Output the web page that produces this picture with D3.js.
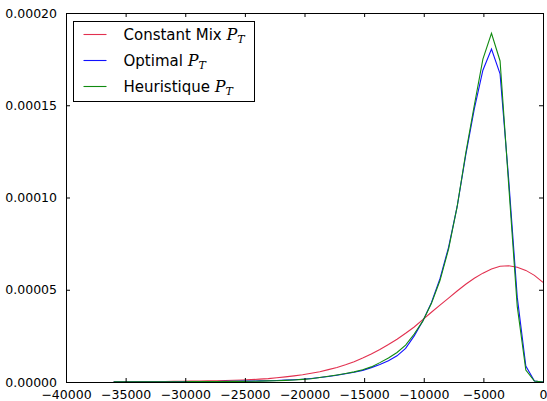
<!doctype html>
<head>
  <meta charset="utf-8">
  <title>Constant Mix / Optimal / Heuristique</title>
  <script src="https://d3js.org/d3.v7.min.js"></script>
</head>
<style>
  body { margin: 0; background: #fff; }
  .line { fill: none; stroke-width: 1.1px; }
  .tick text { font-family: "DejaVu Sans", sans-serif; font-size: 12.5px; fill: #000; }
</style>
<body>
<div id="chart"></div>
<script>
// x grid (bin positions)
var xVals = [-36000, -35280, -34560, -33840, -33120, -32400, -31680, -30960, -30240, -29520,
             -28800, -28080, -27360, -26640, -25920, -25200, -24480, -23760, -23040, -22320,
             -21600, -20880, -20160, -19440, -18720, -18000, -17280, -16560, -15840, -15120,
             -14400, -13680, -12960, -12240, -11520, -10800, -10080, -9360, -8640, -7920,
             -7200, -6480, -5760, -5040, -4320, -3600, -2880, -2160, -1440, -720, 0];

// densities, in units of 1e-5
var unit = 1e-5;
var constantMix = [0.01, 0.01, 0.015, 0.02, 0.02, 0.025, 0.03, 0.035, 0.04, 0.045,
                   0.05, 0.06, 0.07, 0.08, 0.095, 0.11, 0.13, 0.155, 0.185, 0.23,
                   0.28, 0.33, 0.39, 0.47, 0.56, 0.67, 0.79, 0.93, 1.1, 1.3,
                   1.52, 1.76, 2.03, 2.32, 2.64, 2.98, 3.38, 3.78, 4.17, 4.55,
                   4.93, 5.3, 5.62, 5.9, 6.12, 6.27, 6.3, 6.22, 6.05, 5.78, 5.4];
var optimal = [0.01, 0.01, 0.01, 0.01, 0.01, 0.01, 0.015, 0.015, 0.02, 0.02,
               0.025, 0.03, 0.03, 0.035, 0.04, 0.045, 0.05, 0.06, 0.07, 0.08,
               0.1, 0.12, 0.15, 0.19, 0.24, 0.3, 0.37, 0.45, 0.53, 0.63,
               0.78, 0.95, 1.15, 1.42, 1.82, 2.5, 3.3, 4.3, 5.6, 7.3,
               9.5, 12.3, 14.8, 16.9, 18.05, 16.7, 11.0, 4.6, 0.87, 0.05, 0];
var heuristique = [0.01, 0.01, 0.01, 0.01, 0.01, 0.01, 0.01, 0.015, 0.015, 0.02,
                   0.02, 0.025, 0.03, 0.03, 0.035, 0.035, 0.04, 0.05, 0.06, 0.07,
                   0.09, 0.11, 0.14, 0.18, 0.24, 0.31, 0.38, 0.46, 0.55, 0.66,
                   0.82, 1.05, 1.3, 1.6, 2.0, 2.6, 3.3, 4.25, 5.5, 7.2,
                   9.5, 12.4, 15.0, 17.5, 18.9, 17.4, 10.7, 4.1, 0.65, 0.05, 0];

var seriesNames = ["Constant Mix", "Optimal", "Heuristique"];
var seriesColors = ["#e2304f", "#1010ff", "#108a10"];
var xTicks = [-40000, -35000, -30000, -25000, -20000, -15000, -10000, -5000, 0];
var yTicks = [0, 0.00005, 0.0001, 0.00015, 0.0002];

var margin = {top: 13, right: 4, bottom: 19, left: 66},
    width = 547 - margin.left - margin.right,
    height = 401 - margin.top - margin.bottom;

var svg = d3.select("#chart").append("svg")
    .attr("width", 547)
    .attr("height", 401)
  .append("g")
    .attr("transform", "translate(" + margin.left + "," + margin.top + ")");

var x = d3.scaleLinear().domain([-40000, 0]).range([0, width]);
var y = d3.scaleLinear().domain([0, 0.0002]).range([height, 0]);

var allSeries = [constantMix, optimal, heuristique];

var line = d3.line()
    .x(function(d, i) { return x(xVals[i]); })
    .y(function(d) { return y(d * unit); });

allSeries.forEach(function(s, k) {
  svg.append("path")
      .datum(s)
      .attr("class", "line")
      .style("stroke", seriesColors[k])
      .attr("d", line);
});

// axes, ticks pointing inward like matplotlib classic
svg.append("g")
    .attr("transform", "translate(0," + height + ")")
    .call(d3.axisBottom(x).tickValues(xTicks).tickSizeInner(-4).tickSizeOuter(0).tickPadding(8)
      .tickFormat(d3.format("d")))
    .call(function(g) { g.select(".domain").remove(); });

svg.append("g")
    .call(d3.axisTop(x).tickValues(xTicks).tickSizeInner(-4).tickSizeOuter(0).tickFormat(""))
    .call(function(g) { g.select(".domain").remove(); });

svg.append("g")
    .call(d3.axisLeft(y).tickValues(yTicks).tickSizeInner(-4).tickSizeOuter(0).tickPadding(9)
      .tickFormat(d3.format(".5f")))
    .call(function(g) { g.select(".domain").remove(); });

svg.append("g")
    .attr("transform", "translate(" + width + ",0)")
    .call(d3.axisRight(y).tickValues(yTicks).tickSizeInner(-4).tickSizeOuter(0).tickFormat(""))
    .call(function(g) { g.select(".domain").remove(); });

svg.selectAll(".tick line").attr("stroke", "#000");

// frame
svg.append("rect")
    .attr("x", 0.5).attr("y", 0.5)
    .attr("width", width).attr("height", height)
    .attr("fill", "none")
    .attr("stroke", "#000")
    .attr("stroke-width", 1);

// legend
var legend = svg.append("g").attr("transform", "translate(7.5,8.5)");
legend.append("rect")
    .attr("width", 181).attr("height", 80)
    .attr("fill", "#fff")
    .attr("stroke", "#000");

seriesNames.forEach(function(name, k) {
  var cy = 13 + k * 26;
  legend.append("line")
      .attr("x1", 10).attr("x2", 33)
      .attr("y1", cy).attr("y2", cy)
      .attr("stroke", seriesColors[k])
      .attr("stroke-width", 1.1);
  var t = legend.append("text")
      .attr("x", 50).attr("y", cy + 5)
      .style("font-family", "'DejaVu Sans', sans-serif")
      .style("font-size", "15px");
  t.append("tspan").text(name + " ");
  t.append("tspan")
      .style("font-family", "'DejaVu Serif', serif")
      .style("font-style", "italic")
      .style("font-size", "16px")
      .text("P");
  t.append("tspan")
      .attr("dy", 3)
      .style("font-family", "'DejaVu Serif', serif")
      .style("font-style", "italic")
      .style("font-size", "11px")
      .text("T");
});
</script>
</body>
